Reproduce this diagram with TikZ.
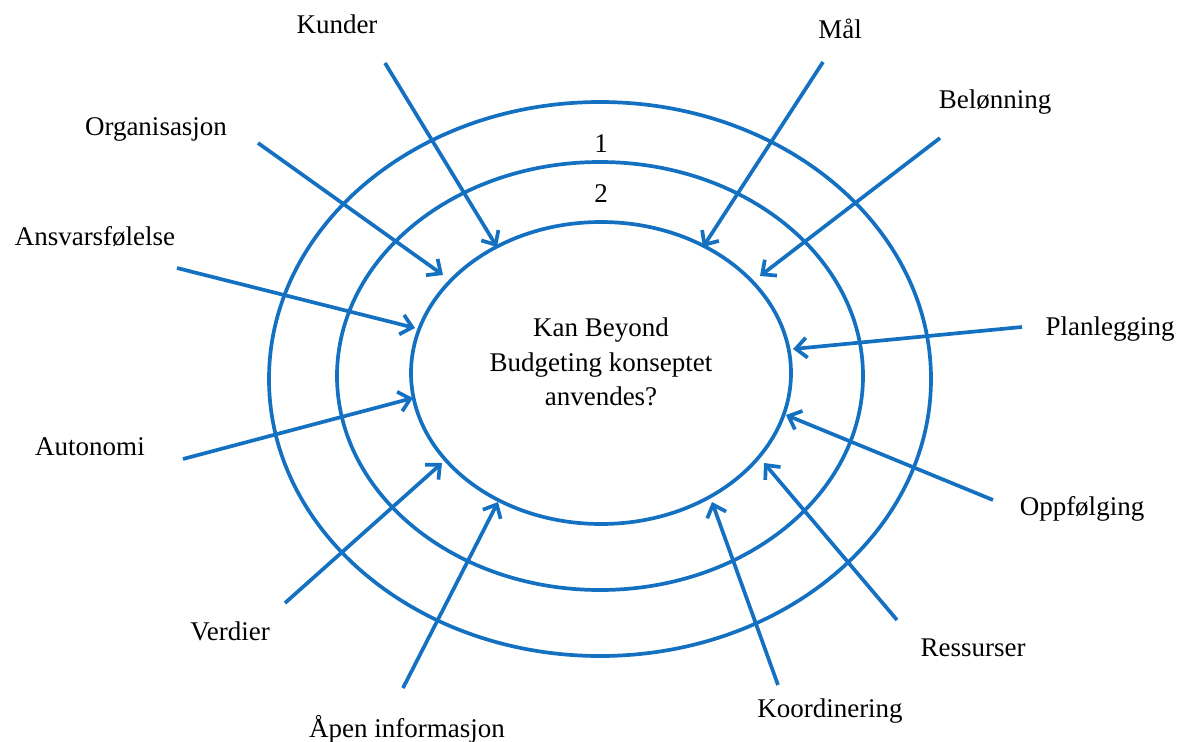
\documentclass[tikz,border=0pt]{standalone}
\usepackage{fontspec}
\setmainfont{Liberation Serif}
\usetikzlibrary{arrows.meta}
\definecolor{ringblue}{RGB}{20,112,192}
\tikzset{
  ring/.style={draw=ringblue, line width=3.7pt},
  inarrow/.style={draw=ringblue, line width=3.7pt, -{Straight Barb[length=11pt,width=20pt,line width=3.7pt]}},
  lbl/.style={anchor=base, inner sep=0pt, font=\fontsize{27}{32}\selectfont},
}
\begin{document}
\begin{tikzpicture}[x=1pt,y=-1pt]
\useasboundingbox (0,0) rectangle (1184,742);
% rings
\draw[ring] (600,379) ellipse [x radius=331, y radius=277];
\draw[ring] (600,376) ellipse [x radius=263, y radius=214];
\draw[ring] (601,373) ellipse [x radius=190, y radius=151];
% ring numbers
\node[lbl] (n1) at (601,152) {1};
\node[lbl] (n2) at (601,202) {2};
% centre text
\node[align=center, inner sep=0pt, font=\fontsize{27}{34.5}\selectfont] (centre) at (601,362) {Kan Beyond\\Budgeting konseptet\\anvendes?};
% labels
\node[lbl] (kunder) at (337,33) {Kunder};
\node[lbl] (maal) at (840,38) {Mål};
\node[lbl] (belonning) at (995,108) {Belønning};
\node[lbl] (organisasjon) at (156,135) {Organisasjon};
\node[lbl] (ansvar) at (95,245) {Ansvarsfølelse};
\node[lbl] (planlegging) at (1110,335) {Planlegging};
\node[lbl] (autonomi) at (90,455) {Autonomi};
\node[lbl] (oppfolging) at (1082,515) {Oppfølging};
\node[lbl] (verdier) at (230,640) {Verdier};
\node[lbl] (ressurser) at (973,656) {Ressurser};
\node[lbl] (apen) at (407,737) {Åpen informasjon};
\node[lbl] (koordinering) at (830,717) {Koordinering};
% arrow start and end points
\coordinate (s1) at (385,63);   \coordinate (e1) at (497,247);
\coordinate (s2) at (823,62);   \coordinate (e2) at (703,247);
\coordinate (s3) at (940,138);  \coordinate (e3) at (760,276);
\coordinate (s4) at (258,143);  \coordinate (e4) at (443,275);
\coordinate (s5) at (177,268);  \coordinate (e5) at (415,328);
\coordinate (s6) at (1022,327); \coordinate (e6) at (793,349);
\coordinate (s7) at (183,459);  \coordinate (e7) at (413,398);
\coordinate (s8) at (993,500);  \coordinate (e8) at (786,415);
\coordinate (s9) at (285,603);  \coordinate (e9) at (442,463);
\coordinate (s10) at (897,620); \coordinate (e10) at (764,463);
\coordinate (s11) at (403,688); \coordinate (e11) at (498,502);
\coordinate (s12) at (778,685); \coordinate (e12) at (712,502);
\foreach \i in {1,...,12} { \draw[inarrow] (s\i) -- (e\i); }
\end{tikzpicture}
\end{document}
